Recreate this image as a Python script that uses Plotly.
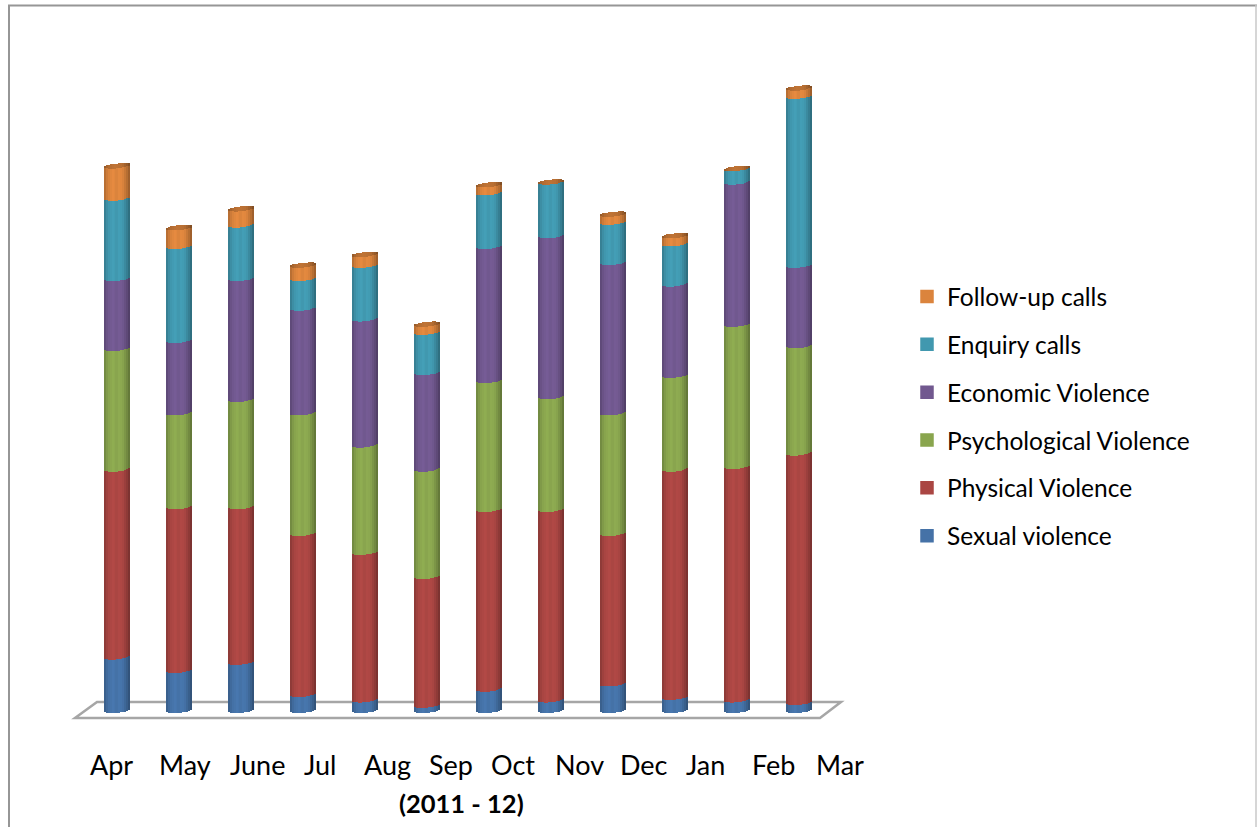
import numpy as np
import plotly.graph_objects as go

months = ["Apr", "May", "June", "Jul", "Aug", "Sep", "Oct", "Nov", "Dec", "Jan", "Feb", "Mar"]
sexual = [20, 15, 18, 6, 4, 2, 8, 4, 10, 5, 4, 3]
physical = [70, 61, 58, 60, 55, 48, 67, 71, 56, 85, 87, 93]
psychological = [45, 35, 40, 45, 40, 40, 48, 42, 45, 35, 53, 40]
economic = [26, 27, 45, 39, 47, 36, 50, 60, 56, 34, 53, 30]
enquiry = [30, 35, 20, 11, 20, 15, 20, 20, 15, 15, 5, 63]
followup = [12, 7, 6, 5, 4, 3, 3, 0, 3, 3, 0, 3]

series_names = ["Sexual violence", "Physical Violence", "Psychological Violence",
                "Economic Violence", "Enquiry calls", "Follow-up calls"]
series_values = [sexual, physical, psychological, economic, enquiry, followup]
series_colors = [(69, 114, 167), (170, 70, 67), (137, 165, 78),
                 (113, 88, 143), (65, 152, 175), (219, 132, 61)]
month_centres_px = [111, 185, 257, 320, 387, 451, 513, 579, 644, 705, 773, 840]

W, H = 1257, 827
FONT = "Lato"
PX_PER_UNIT = 2.683
BASE_PX = 713
BAR0_PX = 117
STEP_PX = 62
BAR_W_PX = 26
STRIP_PX = 2
n_strips = BAR_W_PX // STRIP_PX
ELL = 3.0   # curve depth of a cylinder slice, px
TILT = 1.3  # slant of a slice, px
CAP_PX = 4.8  # height of the top face, px

def shade(rgb, f):
    return "rgb(%d,%d,%d)" % tuple(min(255, int(c * f)) for c in rgb)

strip_u = [(-1 + (2 * k + 1) / n_strips) for k in range(n_strips)]
strip_f = np.interp(strip_u, [-1, -0.7, -0.2, 0.4, 0.8, 1], [0.80, 0.98, 1.07, 1.02, 0.82, 0.68])
centre = n_strips // 2

def strip_shift(u):
    return (ELL * (1 - np.sqrt(1 - u * u)) + TILT * u) / PX_PER_UNIT

fig = go.Figure()
totals = np.sum(np.array(series_values), axis=0)
idx = list(range(len(months)))
cum = np.zeros(len(months))
for s, (name, vals, col) in enumerate(zip(series_names, series_values, series_colors)):
    vals = np.array(vals, dtype=float)
    for k, u in enumerate(strip_u):
        legend_strip = k == centre
        fig.add_bar(
            x=idx, y=vals, base=cum + strip_shift(u),
            width=STRIP_PX / STEP_PX,
            offset=(-BAR_W_PX / 2 + k * STRIP_PX) / STEP_PX,
            name=name, legendgroup=name, showlegend=legend_strip,
            legendrank=100 * (len(series_names) - s),
            marker=dict(color=shade(col, 1.0 if legend_strip else strip_f[k]),
                        line=dict(width=1.5 if legend_strip else 0, color=shade(col, 1.0))),
            hoverinfo="skip" if not legend_strip else None,
        )
    cum = cum + vals

# dark top face of each cylinder
for k, u in enumerate(strip_u):
    cap = CAP_PX * np.sqrt(1 - u * u) / PX_PER_UNIT
    fig.add_bar(
        x=idx, y=[cap] * len(months), base=totals + strip_shift(u),
        width=STRIP_PX / STEP_PX,
        offset=(-BAR_W_PX / 2 + k * STRIP_PX) / STEP_PX,
        showlegend=False, hoverinfo="skip",
        marker=dict(color=shade(series_colors[-1], 0.82 * strip_f[k]), line=dict(width=0)),
    )

def px_x(v):
    return v / W

def px_y(v):
    return 1 - v / H

GRID = "#A6A6A6"
floor = "M75,718 L820,718 L841,702 L97,702 Z"
shapes = [
    dict(type="path", xref="x3", yref="y3", path=floor, fillcolor="white",
         line=dict(color=GRID, width=2.5), layer="below"),
    dict(type="line", xref="paper", yref="paper", x0=px_x(9), x1=px_x(9), y0=0, y1=px_y(5),
         line=dict(color="#969696", width=2)),
    dict(type="line", xref="paper", yref="paper", x0=px_x(8), x1=1, y0=px_y(5.5), y1=px_y(5.5),
         line=dict(color="#969696", width=2)),
    dict(type="line", xref="paper", yref="paper", x0=px_x(1256), x1=px_x(1256), y0=0, y1=px_y(5),
         line=dict(color="#C8C8C8", width=1.5)),
]
annotations = [
    dict(text=m, x=px_x(c), y=px_y(764), xref="paper", yref="paper", showarrow=False,
         xanchor="center", yanchor="middle", font=dict(family=FONT, size=27, color="black"))
    for m, c in zip(months, month_centres_px)
]
annotations.append(dict(text="<b>(2011 - 12)</b>", x=px_x(461), y=px_y(803), xref="paper", yref="paper",
                        showarrow=False, xanchor="center", yanchor="middle",
                        font=dict(family=FONT, size=25.5, color="black")))

# invisible pixel-scale axes, used only by the floor path
fig.add_scatter(x=[0, W], y=[0, H], xaxis="x3", yaxis="y3", mode="markers",
                marker=dict(opacity=0), showlegend=False, hoverinfo="skip")

fig.update_layout(
    width=W, height=H, margin=dict(l=0, r=0, t=0, b=0),
    paper_bgcolor="white", plot_bgcolor="rgba(0,0,0,0)",
    barmode="overlay", bargap=0,
    showlegend=True,
    xaxis=dict(visible=False, range=[-BAR0_PX / STEP_PX, (W - BAR0_PX) / STEP_PX], domain=[0, 1]),
    yaxis=dict(visible=False, range=[-(H - BASE_PX) / PX_PER_UNIT, BASE_PX / PX_PER_UNIT], domain=[0, 1]),
    xaxis3=dict(visible=False, range=[0, W], domain=[0, 1], overlaying="x"),
    yaxis3=dict(visible=False, range=[H, 0], domain=[0, 1], overlaying="y"),
    legend=dict(x=px_x(907), y=px_y(274), xanchor="left", yanchor="top",
                traceorder="grouped", tracegroupgap=13,
                font=dict(family=FONT, size=24.5, color="black"),
                bgcolor="rgba(0,0,0,0)", itemclick=False, itemdoubleclick=False),
    shapes=shapes, annotations=annotations,
    font=dict(family=FONT),
)
fig.write_html("out.html", config={"displayModeBar": False},
               post_script="document.body.style.margin='0';document.body.style.overflow='hidden';")
